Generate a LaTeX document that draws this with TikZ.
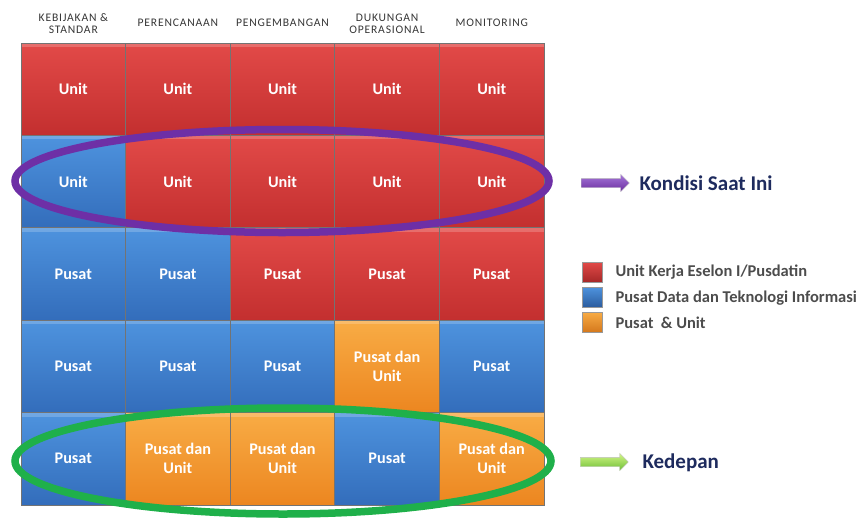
\documentclass[tikz,border=0pt]{standalone}
\usepackage{fontspec}
\setmainfont{Carlito}
\newfontfamily\spacedfont[LetterSpace=7]{Carlito}
\usetikzlibrary{shapes.geometric,shapes.arrows}

\definecolor{redT}{HTML}{E24A48}
\definecolor{redB}{HTML}{C32F2F}
\definecolor{bluT}{HTML}{4E93DE}
\definecolor{bluB}{HTML}{336DBB}
\definecolor{orgT}{HTML}{F8AC45}
\definecolor{orgB}{HTML}{EC8620}
\definecolor{ringpurple}{HTML}{6E2FA6}
\definecolor{ringgreen}{HTML}{1FB04A}
\definecolor{navy}{HTML}{1E2B5E}
\definecolor{headgray}{HTML}{363636}
\definecolor{arrpurT}{HTML}{A676DA}
\definecolor{arrpurB}{HTML}{6A2E9E}
\definecolor{arrgrnT}{HTML}{D2F585}
\definecolor{arrgrnB}{HTML}{6DBE36}

\tikzset{
  cell/.style={rectangle, minimum width=104.6pt, minimum height=92.4pt,
    inner sep=0pt, draw=black!55, line width=0.8pt, text=white,
    font=\fontsize{16.2}{19}\selectfont\bfseries, align=center,
    path picture={\fill[white, opacity=0.2]
      (path picture bounding box.north west) rectangle
      ([yshift=-4pt]path picture bounding box.north east);}},
  redc/.style={cell, top color=redT, bottom color=redB},
  bluc/.style={cell, top color=bluT, bottom color=bluB},
  orgc/.style={cell, top color=orgT, bottom color=orgB},
  colhead/.style={font=\spacedfont\fontsize{11.6}{12}\selectfont, text=headgray, align=center},
  ring/.style={ellipse, draw, line width=7.5pt, inner sep=0pt},
  legbox/.style={rectangle, minimum width=20pt, minimum height=20pt, inner sep=0pt,
    draw=black!40, line width=0.4pt},
  legtext/.style={anchor=west, font=\fontsize{16.5}{18}\selectfont\bfseries, text=black!70},
  pointer/.style={single arrow, minimum height=48pt, inner xsep=0pt, inner ysep=4.5pt,
    single arrow head extend=4pt, draw=black!25, line width=0.3pt},
  tag/.style={anchor=west, font=\fontsize{21}{24}\selectfont\bfseries, text=navy},
}

\begin{document}
\begin{tikzpicture}[x=1pt, y=-1pt]
  \useasboundingbox (0,0) rectangle (860,520);

  % column headings
  \node[colhead] (h1) at (73.3,24) {KEBIJAKAN \&\\STANDAR};
  \node[colhead] (h2) at (177.9,23) {PERENCANAAN};
  \node[colhead] (h3) at (282.5,23) {PENGEMBANGAN};
  \node[colhead] (h4) at (387.1,24) {DUKUNGAN\\OPERASIONAL};
  \node[colhead] (h5) at (491.7,23) {MONITORING};

  % row 1
  \node[redc] (c11) at (73.3,89.2) {Unit};
  \node[redc] (c12) at (177.9,89.2) {Unit};
  \node[redc] (c13) at (282.5,89.2) {Unit};
  \node[redc] (c14) at (387.1,89.2) {Unit};
  \node[redc] (c15) at (491.7,89.2) {Unit};
  % row 2
  \node[bluc] (c21) at (73.3,181.6) {Unit};
  \node[redc] (c22) at (177.9,181.6) {Unit};
  \node[redc] (c23) at (282.5,181.6) {Unit};
  \node[redc] (c24) at (387.1,181.6) {Unit};
  \node[redc] (c25) at (491.7,181.6) {Unit};
  % row 3
  \node[bluc] (c31) at (73.3,274) {Pusat};
  \node[bluc] (c32) at (177.9,274) {Pusat};
  \node[redc] (c33) at (282.5,274) {Pusat};
  \node[redc] (c34) at (387.1,274) {Pusat};
  \node[redc] (c35) at (491.7,274) {Pusat};
  % row 4
  \node[bluc] (c41) at (73.3,366.4) {Pusat};
  \node[bluc] (c42) at (177.9,366.4) {Pusat};
  \node[bluc] (c43) at (282.5,366.4) {Pusat};
  \node[orgc] (c44) at (387.1,366.4) {Pusat dan\\Unit};
  \node[bluc] (c45) at (491.7,366.4) {Pusat};
  % row 5
  \node[bluc] (c51) at (73.3,458.8) {Pusat};
  \node[orgc] (c52) at (177.9,458.8) {Pusat dan\\Unit};
  \node[orgc] (c53) at (282.5,458.8) {Pusat dan\\Unit};
  \node[bluc] (c54) at (387.1,458.8) {Pusat};
  \node[orgc] (c55) at (491.7,458.8) {Pusat dan\\Unit};

  % highlight rings
  \node[ring, draw=ringpurple, minimum width=534pt, minimum height=103pt] (now) at (282,181) {};
  \node[ring, draw=ringgreen, minimum width=536pt, minimum height=106pt] (next) at (283,461) {};

  % pointers with captions
  \node[pointer, top color=arrpurT, bottom color=arrpurB] (pa) at (603,183) {};
  \node[tag] (kondisi) at (636,183) {Kondisi Saat Ini};
  \node[pointer, top color=arrgrnT, bottom color=arrgrnB] (ga) at (602,462) {};
  \node[tag] (kedepan) at (639,463) {Kedepan};

  % legend
  \node[legbox, top color=redT, bottom color=redB!85!black] (l1) at (592,272) {};
  \node[legbox, top color=bluT, bottom color=bluB!85!black] (l2) at (592,297) {};
  \node[legbox, top color=orgT, bottom color=orgB!90!black] (l3) at (592,322) {};
  \node[legtext] (t1) at (612,272) {Unit Kerja Eselon I/Pusdatin};
  \node[legtext] (t2) at (612,298) {Pusat Data dan Teknologi Informasi};
  \node[legtext] (t3) at (612,323) {Pusat \ \& Unit};
\end{tikzpicture}
\end{document}
